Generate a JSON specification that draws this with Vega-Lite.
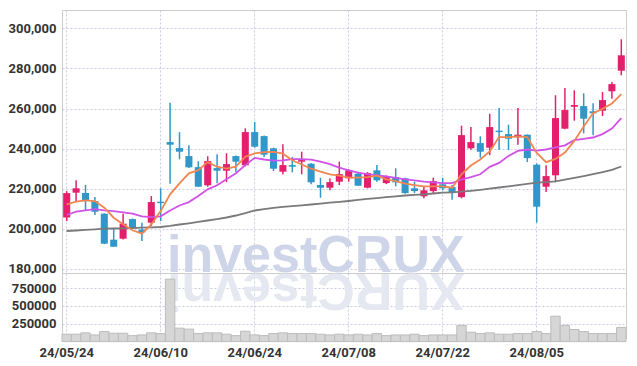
{
  "$schema": "https://vega.github.io/schema/vega-lite/v6.json",
  "padding": {"left": 7, "top": 9, "right": 10, "bottom": 5},
  "background": "white",
  "spacing": 0,
  "bounds": "flush",
  "data": {"values": [
    {"d":"24/05/24","o":205500,"h":218700,"l":203700,"c":217700,"v":103000,"m5":212100,"m20":206750,"m60":198750},
    {"d":"24/05/27","o":217900,"h":224100,"l":213800,"c":220100,"v":103000,"m5":213400,"m20":208400,"m60":199000},
    {"d":"24/05/28","o":217700,"h":221800,"l":209000,"c":214300,"v":122000,"m5":214100,"m20":209100,"m60":199300},
    {"d":"24/05/29","o":213700,"h":215700,"l":206700,"c":208400,"v":93000,"m5":213700,"m20":209700,"m60":199600},
    {"d":"24/05/30","o":207400,"h":207600,"l":192200,"c":192400,"v":140000,"m5":210400,"m20":209100,"m60":199900},
    {"d":"24/05/31","o":194400,"h":200400,"l":190900,"c":190900,"v":117000,"m5":205400,"m20":208700,"m60":200000},
    {"d":"24/06/03","o":194900,"h":207400,"l":194500,"c":202400,"v":117000,"m5":202100,"m20":208100,"m60":200100},
    {"d":"24/06/04","o":204700,"h":205000,"l":200000,"c":200100,"v":83000,"m5":199100,"m20":207400,"m60":200200},
    {"d":"24/06/05","o":199400,"h":202900,"l":193700,"c":198100,"v":93000,"m5":197400,"m20":206100,"m60":200400},
    {"d":"24/06/07","o":202900,"h":216200,"l":201200,"c":213200,"v":122000,"m5":202100,"m20":205700,"m60":200600},
    {"d":"24/06/10","o":213400,"h":220100,"l":203700,"c":212700,"v":112000,"m5":208700,"m20":206100,"m60":200750},
    {"d":"24/06/11","o":243200,"h":262900,"l":222400,"c":241900,"v":874000,"m5":217100,"m20":209000,"m60":201300},
    {"d":"24/06/12","o":240200,"h":248200,"l":234600,"c":238400,"v":188000,"m5":222600,"m20":211500,"m60":202000},
    {"d":"24/06/13","o":236200,"h":241600,"l":230200,"c":230600,"v":174000,"m5":227600,"m20":213200,"m60":202600},
    {"d":"24/06/14","o":230700,"h":233600,"l":220900,"c":220900,"v":112000,"m5":229200,"m20":216200,"m60":203300},
    {"d":"24/06/17","o":221600,"h":236100,"l":220900,"c":233700,"v":122000,"m5":233200,"m20":219600,"m60":204000},
    {"d":"24/06/18","o":230200,"h":237100,"l":222600,"c":228900,"v":122000,"m5":230900,"m20":221600,"m60":204700},
    {"d":"24/06/19","o":228900,"h":237600,"l":223200,"c":232200,"v":103000,"m5":229900,"m20":224600,"m60":205500},
    {"d":"24/06/20","o":236200,"h":236500,"l":228200,"c":233400,"v":83000,"m5":230900,"m20":227600,"m60":206500},
    {"d":"24/06/21","o":231600,"h":250100,"l":231000,"c":248200,"v":145000,"m5":235900,"m20":231700,"m60":207700},
    {"d":"24/06/24","o":248200,"h":253200,"l":240400,"c":240900,"v":93000,"m5":237600,"m20":235300,"m60":209000},
    {"d":"24/06/25","o":246200,"h":246500,"l":235700,"c":236900,"v":83000,"m5":238200,"m20":234500,"m60":209700},
    {"d":"24/06/26","o":240100,"h":240400,"l":228700,"c":229900,"v":112000,"m5":238300,"m20":233900,"m60":210300},
    {"d":"24/06/27","o":228400,"h":242100,"l":227100,"c":231700,"v":122000,"m5":237400,"m20":234100,"m60":210800},
    {"d":"24/06/28","o":231700,"h":235700,"l":228100,"c":230900,"v":112000,"m5":234100,"m20":234700,"m60":211200},
    {"d":"24/07/01","o":233400,"h":238400,"l":227100,"c":234200,"v":112000,"m5":232000,"m20":234700,"m60":211600},
    {"d":"24/07/02","o":232400,"h":232600,"l":222100,"c":223100,"v":112000,"m5":229900,"m20":234400,"m60":212000},
    {"d":"24/07/03","o":221700,"h":225400,"l":215400,"c":220400,"v":103000,"m5":228400,"m20":233400,"m60":212400},
    {"d":"24/07/04","o":220400,"h":225000,"l":219100,"c":223200,"v":93000,"m5":227100,"m20":232200,"m60":212900},
    {"d":"24/07/05","o":223400,"h":233400,"l":221700,"c":227200,"v":103000,"m5":226400,"m20":230400,"m60":213300},
    {"d":"24/07/08","o":225100,"h":229700,"l":223400,"c":229100,"v":93000,"m5":225400,"m20":229100,"m60":213750},
    {"d":"24/07/09","o":227400,"h":228400,"l":221400,"c":221400,"v":103000,"m5":225400,"m20":227900,"m60":214300},
    {"d":"24/07/10","o":220400,"h":228200,"l":220100,"c":227700,"v":93000,"m5":225700,"m20":227200,"m60":214800},
    {"d":"24/07/11","o":229100,"h":231700,"l":223400,"c":224100,"v":112000,"m5":226400,"m20":226600,"m60":215200},
    {"d":"24/07/12","o":222700,"h":226500,"l":222200,"c":226100,"v":83000,"m5":224600,"m20":226000,"m60":215700},
    {"d":"24/07/15","o":225700,"h":230100,"l":221100,"c":223100,"v":93000,"m5":223700,"m20":225300,"m60":216100},
    {"d":"24/07/16","o":225100,"h":225400,"l":217400,"c":217700,"v":93000,"m5":222400,"m20":224600,"m60":216500},
    {"d":"24/07/17","o":220100,"h":223400,"l":217700,"c":218700,"v":103000,"m5":221700,"m20":224100,"m60":216800},
    {"d":"24/07/18","o":216100,"h":220700,"l":215100,"c":219100,"v":83000,"m5":221100,"m20":223400,"m60":217100},
    {"d":"24/07/19","o":218700,"h":225400,"l":217700,"c":223700,"v":93000,"m5":221100,"m20":223100,"m60":217500},
    {"d":"24/07/22","o":222100,"h":225400,"l":219100,"c":220100,"v":93000,"m5":221100,"m20":222700,"m60":217900},
    {"d":"24/07/23","o":220700,"h":221700,"l":214400,"c":218100,"v":93000,"m5":220400,"m20":222700,"m60":218100},
    {"d":"24/07/24","o":215700,"h":251400,"l":215100,"c":246700,"v":226000,"m5":227100,"m20":224500,"m60":218400},
    {"d":"24/07/25","o":240100,"h":250700,"l":239400,"c":243200,"v":131000,"m5":231500,"m20":225700,"m60":218800},
    {"d":"24/07/26","o":242700,"h":246100,"l":235400,"c":238400,"v":112000,"m5":234500,"m20":227100,"m60":219300},
    {"d":"24/07/29","o":240400,"h":257400,"l":236700,"c":250700,"v":122000,"m5":238500,"m20":230800,"m60":219900},
    {"d":"24/07/30","o":248900,"h":260200,"l":239200,"c":248200,"v":103000,"m5":245700,"m20":232800,"m60":220500},
    {"d":"24/07/31","o":247200,"h":251900,"l":239200,"c":244900,"v":103000,"m5":245700,"m20":236300,"m60":221100},
    {"d":"24/08/01","o":245600,"h":260200,"l":241900,"c":246900,"v":112000,"m5":246100,"m20":238800,"m60":221700},
    {"d":"24/08/02","o":246900,"h":247000,"l":233200,"c":235200,"v":112000,"m5":245700,"m20":239500,"m60":222300},
    {"d":"24/08/05","o":231900,"h":232500,"l":202900,"c":210900,"v":140000,"m5":237800,"m20":238900,"m60":222900},
    {"d":"24/08/06","o":220900,"h":231600,"l":218200,"c":226200,"v":112000,"m5":233200,"m20":239500,"m60":223200},
    {"d":"24/08/07","o":226600,"h":266600,"l":223200,"c":255200,"v":355000,"m5":234800,"m20":240600,"m60":223600},
    {"d":"24/08/08","o":249900,"h":270200,"l":249600,"c":259200,"v":226000,"m5":238000,"m20":241600,"m60":224400},
    {"d":"24/08/09","o":260900,"h":269100,"l":253900,"c":261700,"v":169000,"m5":243800,"m20":244200,"m60":225300},
    {"d":"24/08/12","o":261200,"h":267600,"l":247600,"c":254900,"v":140000,"m5":251000,"m20":244800,"m60":226200},
    {"d":"24/08/13","o":258600,"h":262600,"l":246600,"c":257600,"v":112000,"m5":257700,"m20":245500,"m60":227200},
    {"d":"24/08/14","o":258900,"h":268200,"l":256200,"c":264200,"v":112000,"m5":259800,"m20":247200,"m60":228200},
    {"d":"24/08/16","o":268600,"h":273200,"l":264900,"c":272200,"v":112000,"m5":262500,"m20":250000,"m60":229300},
    {"d":"24/08/19","o":278900,"h":294600,"l":276600,"c":286600,"v":198000,"m5":267200,"m20":255200,"m60":231000}
  ]},
  "vconcat": [
    {
      "width": 564,
      "height": 263,
      "layer": [
        {
          "data": {"values": [{}]},
          "mark": {"type": "text", "text": "investCRUX", "font": "Liberation Sans", "fontWeight": "bold", "fontSize": 52, "color": "#cfd5e9", "align": "center", "baseline": "alphabetic"},
          "encoding": {
            "x": {"datum": "24/07/02", "type": "ordinal", "bandPosition": 1, "scale": {"paddingInner": 0, "paddingOuter": 0},
                  "axis": {"values": ["24/05/24","24/06/10","24/06/24","24/07/08","24/07/22","24/08/05"], "labels": false, "ticks": false, "domain": false, "grid": true, "bandPosition": 0.5, "title": null}},
            "y": {"datum": 178250, "type": "quantitative", "scale": {"domain": [177750, 309250], "nice": false, "zero": false},
                  "axis": {"values": [180000,200000,220000,240000,260000,280000,300000], "format": ",d", "title": null, "grid": true, "ticks": false, "domain": false, "labelPadding": 6, "labelOverlap": false}}
          }
        },
        {
          "mark": {"type": "rule", "strokeWidth": 1.5},
          "encoding": {
            "x": {"field": "d", "type": "ordinal"},
            "y": {"field": "l", "type": "quantitative"},
            "y2": {"field": "h"},
            "color": {"condition": {"test": "datum.c >= datum.o", "value": "#e2206b"}, "value": "#3196c8"}
          }
        },
        {
          "mark": {"type": "bar", "width": {"band": 0.75}},
          "encoding": {
            "x": {"field": "d", "type": "ordinal"},
            "y": {"field": "o", "type": "quantitative"},
            "y2": {"field": "c"},
            "color": {"condition": {"test": "datum.c >= datum.o", "value": "#e2206b"}, "value": "#3196c8"}
          }
        },
        {
          "mark": {"type": "line", "color": "#7a7a7a", "strokeWidth": 1.8},
          "encoding": {"x": {"field": "d", "type": "ordinal"}, "y": {"field": "m60", "type": "quantitative"}}
        },
        {
          "mark": {"type": "line", "color": "#d052e6", "strokeWidth": 1.8},
          "encoding": {"x": {"field": "d", "type": "ordinal"}, "y": {"field": "m20", "type": "quantitative"}}
        },
        {
          "mark": {"type": "line", "color": "#f08650", "strokeWidth": 1.8},
          "encoding": {"x": {"field": "d", "type": "ordinal"}, "y": {"field": "m5", "type": "quantitative"}}
        }
      ]
    },
    {
      "width": 564,
      "height": 65,
      "layer": [
        {
          "data": {"values": [{}]},
          "mark": {"type": "text", "text": "XURCtsevni", "font": "Liberation Sans", "fontWeight": "bold", "fontSize": 52, "color": "#e6e8f1", "align": "center", "baseline": "alphabetic", "angle": 180},
          "encoding": {
            "x": {"datum": "24/07/02", "type": "ordinal", "bandPosition": 1, "scale": {"paddingInner": 0, "paddingOuter": 0},
                  "axis": {"values": ["24/05/24","24/06/10","24/06/24","24/07/08","24/07/22","24/08/05"], "labelAngle": 0, "ticks": false, "domain": false, "grid": true, "bandPosition": 0.5, "labelPadding": 8, "title": null, "labelOverlap": false}},
            "y": {"datum": 950000, "type": "quantitative", "scale": {"domain": [50000, 960000], "nice": false, "zero": false},
                  "axis": {"values": [250000, 500000, 750000], "format": "d", "title": null, "grid": true, "ticks": false, "domain": false, "labelPadding": 6, "labelOverlap": false, "labelFlush": false, "tickCount": 3}}
          }
        },
        {
          "mark": {"type": "bar", "width": {"band": 1}, "fill": "#d6d6d6", "stroke": "#bcbcbc", "strokeWidth": 1},
          "encoding": {
            "x": {"field": "d", "type": "ordinal"},
            "y": {"field": "v", "type": "quantitative",
                  "axis": {"values": [250000, 500000, 750000], "format": "d", "title": null, "grid": true, "ticks": false, "domain": false, "labelPadding": 6, "labelOverlap": false, "labelFlush": false, "tickCount": 3}}
          }
        }
      ]
    }
  ],
  "config": {
    "view": {"stroke": "#cccccc", "strokeWidth": 1},
    "axis": {"labelFont": "Roboto", "labelFontSize": 13, "labelColor": "#333333", "labelFontWeight": "bold", "gridColor": "#c9cbe0", "gridDash": [2, 2], "gridWidth": 1, "labelOverlap": false}
  }
}
